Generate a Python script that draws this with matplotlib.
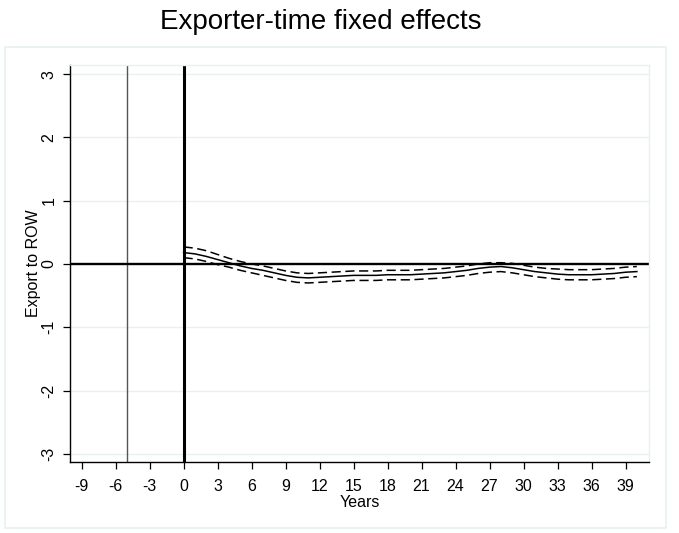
import matplotlib
matplotlib.use("Agg")
import matplotlib.pyplot as plt
import matplotlib.patches as patches

plt.rcParams['font.family'] = ['Liberation Sans', 'DejaVu Sans']
plt.rcParams['axes.unicode_minus'] = False

# event-time path of the exporter-time fixed effects, with confidence band
years = list(range(0, 41))
est = [0.18, 0.16, 0.12, 0.07, 0.02, -0.03, -0.07, -0.10, -0.14, -0.18,
       -0.21, -0.22, -0.21, -0.20, -0.19, -0.18, -0.18, -0.18, -0.17, -0.17,
       -0.17, -0.16, -0.15, -0.14, -0.12, -0.10, -0.07, -0.05, -0.04, -0.06,
       -0.09, -0.12, -0.14, -0.16, -0.17, -0.17, -0.17, -0.16, -0.15, -0.13,
       -0.12]
hi = [0.27, 0.25, 0.21, 0.15, 0.09, 0.04, 0.00, -0.03, -0.07, -0.11,
      -0.14, -0.15, -0.14, -0.13, -0.12, -0.11, -0.11, -0.11, -0.10, -0.10,
      -0.10, -0.09, -0.08, -0.07, -0.05, -0.03, 0.00, 0.02, 0.02, 0.01,
      -0.02, -0.05, -0.07, -0.08, -0.09, -0.09, -0.09, -0.08, -0.07, -0.05,
      -0.04]
lo = [0.10, 0.08, 0.04, -0.01, -0.05, -0.10, -0.14, -0.18, -0.22, -0.26,
      -0.29, -0.30, -0.29, -0.28, -0.27, -0.26, -0.26, -0.26, -0.25, -0.25,
      -0.25, -0.24, -0.23, -0.22, -0.20, -0.18, -0.15, -0.13, -0.12, -0.14,
      -0.17, -0.20, -0.22, -0.24, -0.25, -0.25, -0.25, -0.24, -0.23, -0.21,
      -0.20]

xticks = list(range(-9, 40, 3))
yticks = [-3, -2, -1, 0, 1, 2, 3]
pre_line = -5
grid_col = '#e8f0f1'

fig = plt.figure(figsize=(6.79, 5.33), dpi=100)
fig.patch.set_facecolor('white')

# outer graph region frame
fig.patches.append(patches.Rectangle((5 / 679, 1 - 528 / 533), 661 / 679, 481 / 533,
                                     transform=fig.transFigure, fill=False,
                                     edgecolor=grid_col, lw=1.2))

ax = fig.add_axes([0.1035, 0.1332, 0.8523, 0.7454])
ax.set_xlim(-10, 41.07)
ax.set_ylim(-3.13, 3.15)

for y in yticks:
    if y != 0:
        ax.axhline(y, color=grid_col, lw=1.0, zorder=0)

ax.axvline(pre_line, color='#555555', lw=1.0, zorder=1)
ax.axvline(0, color='black', lw=2.2, zorder=2)
ax.axhline(0, color='black', lw=1.7, zorder=2)

ax.plot(years, est, color='black', lw=1.1, zorder=3)
ax.plot(years, hi, color='black', lw=1.1, ls=(0, (6, 3)), zorder=3)
ax.plot(years, lo, color='black', lw=1.1, ls=(0, (6, 3)), zorder=3)

ax.set_xticks(xticks)
ax.set_yticks(yticks)
ax.set_yticklabels([str(v) for v in yticks], rotation=90, va='center')
ax.tick_params(axis='both', length=5, width=0.9, labelsize=11.5, color='black')
ax.tick_params(axis='x', pad=7)
ax.tick_params(axis='y', pad=5)

for s in ['top', 'right']:
    ax.spines[s].set_color(grid_col)
    ax.spines[s].set_linewidth(1.0)
for s in ['left', 'bottom']:
    ax.spines[s].set_color('black')
    ax.spines[s].set_linewidth(1.0)

ax.set_xlabel('Years', fontsize=11.5, labelpad=1)
ax.set_ylabel('Export to ROW', fontsize=11.5, labelpad=0)

fig.text(321 / 679, 1 - 22 / 533, 'Exporter-time fixed effects', ha='center', va='center',
         fontsize=20)

fig.savefig('out.png', dpi=100)
